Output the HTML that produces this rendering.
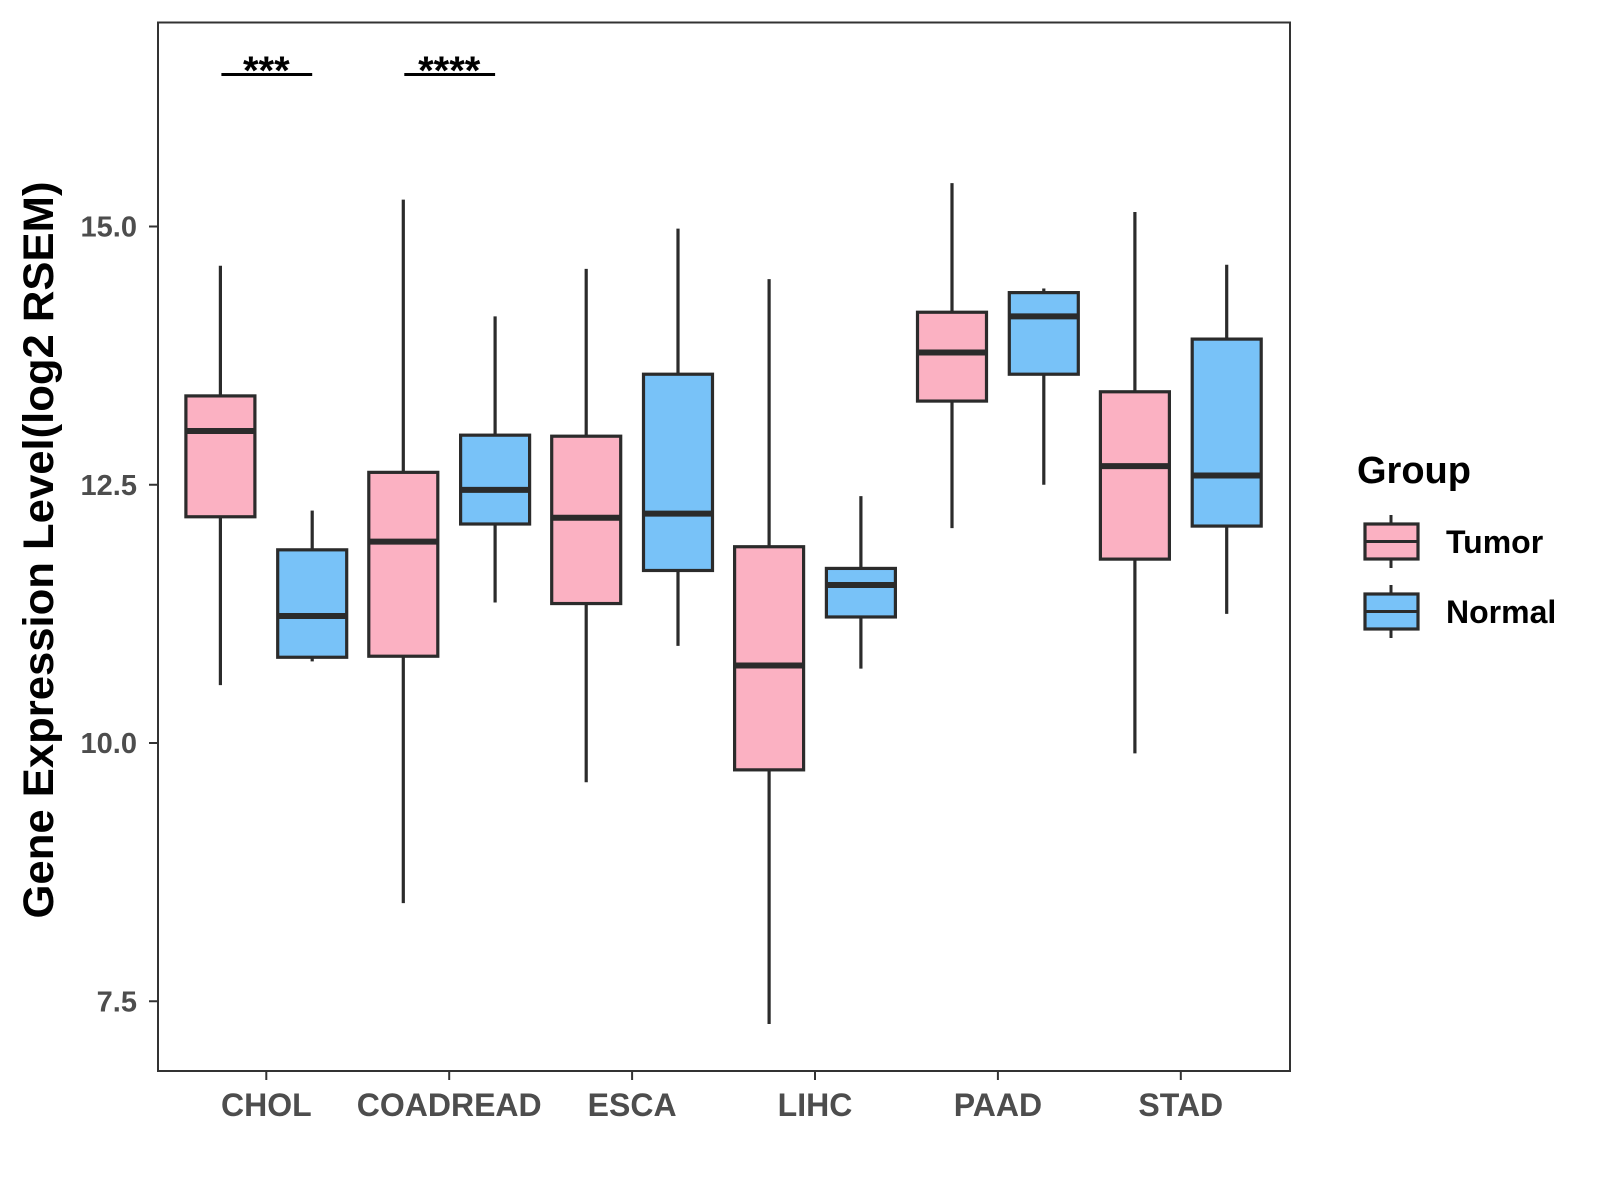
<!DOCTYPE html>
<html><head><meta charset="utf-8"><style>body{margin:0;background:#fff}svg{display:block;font-family:"Liberation Sans",Arial,sans-serif}</style></head>
<body>
<svg id="chart" width="1600" height="1200" viewBox="0 0 1600 1200" xmlns="http://www.w3.org/2000/svg">
<rect x="0" y="0" width="1600" height="1200" fill="#fff"/>
<g id="marks"></g>
<rect x="158" y="22.5" width="1132" height="1048.5" fill="none" stroke="#333" stroke-width="2"/>
<g id="axes"></g>
<text transform="translate(53,550) rotate(-90)" text-anchor="middle" font-size="43" font-weight="bold" fill="#000" textLength="737" lengthAdjust="spacingAndGlyphs">Gene Expression Level(log2 RSEM)</text>
<g>
<text x="1357" y="483" font-size="38" font-weight="bold">Group</text>
</g>
</svg>
<script>
const categories=["CHOL","COADREAD","ESCA","LIHC","PAAD","STAD"];
const tumorStats=[[10.56,12.19,13.02,13.36,14.62],[8.45,10.84,11.95,12.62,15.26],[9.62,11.35,12.18,12.97,14.59],[7.28,9.74,10.75,11.90,14.49],[12.08,13.31,13.78,14.17,15.42],[9.90,11.78,12.68,13.40,15.14]];
const normalStats=[[10.79,10.83,11.23,11.87,12.25],[11.36,12.12,12.45,12.98,14.13],[10.94,11.67,12.22,13.57,14.98],[10.72,11.22,11.53,11.69,12.39],[12.5,13.57,14.13,14.36,14.40],[11.25,12.10,12.59,13.91,14.63]];
const yTicks=[7.5,10.0,12.5,15.0];
const sigLabels=["***","****","","","",""];
const groups=["Tumor","Normal"];
const colors=["#FBB1C2","#78C2F8"];
const NS="http://www.w3.org/2000/svg";
const yScale=v=>226.5+(15-v)*103.3;
const xScale=i=>266.3+i*182.9;
function mk(t,a,p){const e=document.createElementNS(NS,t);for(const k in a)e.setAttribute(k,a[k]);p.appendChild(e);return e;}
const marks=document.getElementById('marks'),axes=document.getElementById('axes'),svg=document.getElementById('chart');
const hw=34.5,off=45.9;
function box(s,cx,col,name){
  const g=mk('g',{},marks);
  
  
  mk('line',{x1:cx,x2:cx,y1:yScale(s[4]),y2:yScale(s[3]),stroke:'#2b2b2b','stroke-width':3.2},g);
  mk('line',{x1:cx,x2:cx,y1:yScale(s[1]),y2:yScale(s[0]),stroke:'#2b2b2b','stroke-width':3.2},g);
  mk('rect',{x:cx-hw,y:yScale(s[3]),width:hw*2,height:yScale(s[1])-yScale(s[3]),fill:col,stroke:'#2b2b2b','stroke-width':3.2},g);
  mk('line',{x1:cx-hw,x2:cx+hw,y1:yScale(s[2]),y2:yScale(s[2]),stroke:'#2b2b2b','stroke-width':6},g);
}
categories.forEach((c,i)=>{
  box(tumorStats[i],xScale(i)-off,colors[0],'box-tumor-'+c.toLowerCase());
  box(normalStats[i],xScale(i)+off,colors[1],'box-normal-'+c.toLowerCase());
  mk('line',{x1:xScale(i),x2:xScale(i),y1:1071,y2:1080,stroke:'#333','stroke-width':2},axes);
  const t=mk('text',{x:xScale(i),y:1116,'text-anchor':'middle','font-size':32,'font-weight':'bold',fill:'#4d4d4d'},axes);
  
  
  t.textContent=c;
  if(sigLabels[i]){
    const g=mk('g',{},marks);
    
    
    mk('line',{x1:xScale(i)-off+1,x2:xScale(i)+off,y1:74.5,y2:74.5,stroke:'#000','stroke-width':3},g);
    const s=mk('text',{x:xScale(i),y:84,'text-anchor':'middle','font-size':40,'font-weight':'bold'},g);
    s.textContent=sigLabels[i];
  }
});
yTicks.forEach(v=>{
  mk('line',{x1:149,x2:158,y1:yScale(v),y2:yScale(v),stroke:'#333','stroke-width':2},axes);
  const t=mk('text',{x:137,y:yScale(v)+10,'text-anchor':'end','font-size':29,'font-weight':'bold',fill:'#4d4d4d'},axes);
  
  
  t.textContent=v.toFixed(1);
});
groups.forEach((g,i)=>{
  const y0=524+i*70;
  const e=mk('g',{},svg);
  
  
  mk('line',{x1:1391,x2:1391,y1:y0-9,y2:y0+44,stroke:'#2b2b2b','stroke-width':3},e);
  mk('rect',{x:1365,y:y0,width:53,height:35,fill:colors[i],stroke:'#2b2b2b','stroke-width':3.2},e);
  mk('line',{x1:1365,x2:1418,y1:y0+17.5,y2:y0+17.5,stroke:'#2b2b2b','stroke-width':3},e);
  const t=mk('text',{x:1446,y:y0+29,'font-size':32,'font-weight':'bold'},e);
  t.textContent=g;
});
</script>
</body></html>
